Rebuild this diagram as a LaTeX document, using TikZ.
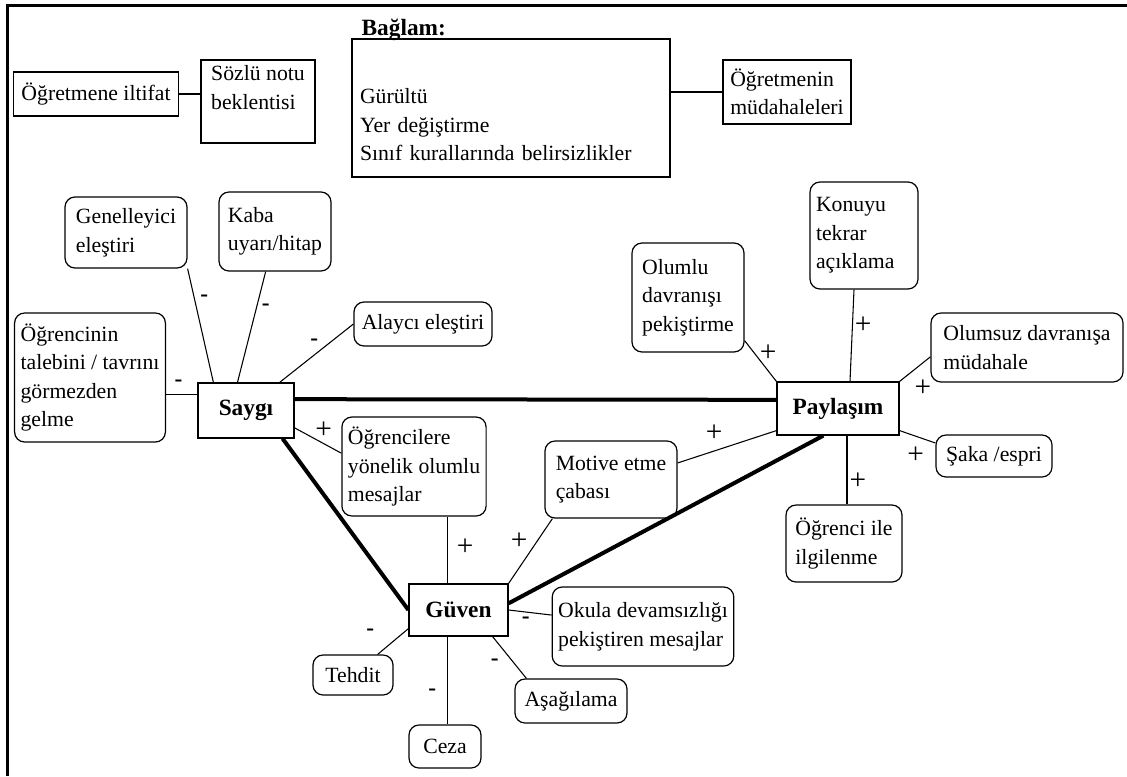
\documentclass[tikz,border=0pt]{standalone}
\usepackage{fontspec}
\setmainfont{Liberation Serif}
\newcommand{\boxfont}{\fontsize{16.3pt}{21.4pt}\selectfont}
\newcommand{\corefont}{\bfseries\fontsize{17.5pt}{21.4pt}\selectfont}

\begin{document}
\begin{tikzpicture}[
  x=0.75pt, y=-0.75pt,
  every node/.style={font=\boxfont},
  card/.style={rectangle, draw, line width=0.9pt, inner xsep=4.5pt, inner ysep=2pt, align=left},
  tag/.style={card, rounded corners=7.5pt},
  core/.style={card, font=\corefont, align=center},
  link/.style={line width=0.8pt},
  tie/.style={line width=3pt},
  frame/.style={line width=2.25pt},
  gain/.style={font=\fontsize{22pt}{22pt}\selectfont, inner sep=0pt},
  loss/.style={font=\corefont, inner sep=0pt},
]
\useasboundingbox (0,0) rectangle (1127,776);
\draw[frame] (7,776) -- (7,5) -- (1127,5);

\node[card, align=center, minimum width=123.75pt, minimum height=33pt] (iltifat) at (96,94) {Öğretmene iltifat};
\node[card, minimum width=85.5pt, minimum height=62.25pt] (sozlu) at (258,101.5) {Sözlü notu\\beklentisi\\\mbox{}};
\node[card, text width=226.5pt, inner xsep=6pt, minimum height=103.5pt] (baglam) at (511,108) {\strut\\Gürültü\\Yer değiştirme\\Sınıf kurallarında belirsizlikler};
\node[font=\corefont, anchor=base west, inner sep=0pt] (baglamlbl) at ([xshift=7.5pt, yshift=2.25pt]baglam.north west) {Bağlam:};
\node[card, minimum width=96pt, minimum height=48pt] (mudahale) at (787,92) {Öğretmenin\\müdahaleleri};

\node[core, minimum width=72pt, minimum height=41.25pt] (saygi) at (246,410.5) {Saygı};
\node[tag, minimum width=91.5pt, minimum height=53.25pt] (genel) at (126,232.5) {Genelleyici\\eleştiri};
\node[tag, minimum width=84pt, minimum height=59.25pt] (kaba) at (275,231.5) {Kaba\\uyarı/hitap};
\node[tag, minimum width=103.5pt, minimum height=33pt] (alayci) at (423,324) {Alaycı eleştiri};
\node[tag, minimum width=111pt, minimum height=96.75pt] (gormez) at (90,377.5) {Öğrencinin\\talebini / tavrını\\görmezden\\gelme};
\node[tag, minimum width=105pt, minimum height=74.25pt] (olumlumsj) at (414,466.5) {Öğrencilere\\yönelik olumlu\\mesajlar};

\node[core, minimum width=91.5pt, minimum height=39.75pt] (paylasim) at (838,408.5) {Paylaşım};
\node[tag, text width=72pt, minimum height=80.25pt] (konu) at (864,235.5) {Konuyu\\tekrar\\açıklama};
\node[tag, minimum width=84pt, minimum height=81.75pt] (pekistir) at (688,297.5) {Olumlu\\davranışı\\pekiştirme};
\node[tag, minimum width=144pt, minimum height=51.75pt] (olumsuz) at (1027,347.5) {Olumsuz davranışa\\müdahale};
\node[tag, minimum width=87pt, minimum height=31.5pt] (saka) at (994,456) {Şaka /espri};
\node[tag, minimum width=87pt, minimum height=57.75pt] (ilgi) at (844,543.5) {Öğrenci ile\\ilgilenme};
\node[tag, minimum width=99pt, minimum height=57.75pt] (motive) at (611,479.5) {Motive etme\\çabası};

\node[core, minimum width=74.25pt, minimum height=39pt] (guven) at (458.5,610) {Güven};
\node[tag, minimum width=135pt, minimum height=59.25pt] (okula) at (643,626.5) {Okula devamsızlığı\\pekiştiren mesajlar};
\node[tag, align=center, minimum width=60pt, minimum height=30pt] (tehdit) at (353,675) {Tehdit};
\node[tag, align=center, minimum width=84pt, minimum height=33pt] (asagi) at (571,701) {Aşağılama};
\node[tag, align=center, minimum width=54pt, minimum height=32.25pt] (ceza) at (445,746.5) {Ceza};

\draw[link] (iltifat) -- (iltifat -| sozlu.west);
\draw[link] (mudahale.west) -- (mudahale.west -| baglam.east);

\draw[link] (genel.south east) -- node[loss, pos=0.26, xshift=7.5pt] {-} ([xshift=12pt]saygi.north west);
\draw[link] ([xshift=-7pt]kaba.south) -- node[loss, pos=0.32, xshift=6.75pt] {-} ([xshift=-6.4pt]saygi.north);
\draw[link] (alayci.west) -- node[loss, pos=0.53, yshift=9.75pt] {-} ([xshift=-11.25pt]saygi.north east);
\draw[link] ([yshift=-13pt]gormez.east) -- node[loss, pos=0.4, yshift=9pt] {-} ([yshift=-13pt]gormez.east -| saygi.west);
\draw[link] ([yshift=-13pt]saygi.east) -- node[gain, pos=0.62, yshift=10pt] {+} ([yshift=10pt]olumlumsj.west);

\draw[tie] ([yshift=8.5pt]saygi.east) -- ([yshift=6.5pt]paylasim.west);
\draw[tie] ([xshift=-9pt]saygi.south east) -- (guven.west);
\draw[tie] ([yshift=5pt]guven.east) -- ([xshift=-11pt]paylasim.south);

\draw[link] ([xshift=-7.5pt]konu.south) -- node[gain, pos=0.39, xshift=8pt] {+} ([xshift=9pt]paylasim.north);
\draw[link] ([yshift=9pt]pekistir.south east) -- node[gain, pos=0.3, xshift=10.5pt] {+} (paylasim.north west);
\draw[link] ([yshift=-7pt]olumsuz.west) -- node[gain, pos=0.7, xshift=10.5pt, yshift=-10.5pt] {+} (paylasim.north east);
\draw[link] ([yshift=3.75pt]paylasim.south east) -- node[gain, pos=0.45, yshift=-14pt] {+} ([yshift=9.75pt]saka.west);
\draw[link] ([xshift=6.75pt]paylasim.south) -- node[gain, pos=0.67, xshift=8.25pt] {+} ([xshift=6.75pt]paylasim.south |- ilgi.north);
\draw[link] ([yshift=12.4pt]motive.east) -- node[gain, pos=0.37, yshift=13.3pt] {+} ([yshift=3.75pt]paylasim.south west);

\draw[link] ([xshift=-8.6pt]guven.north) -- node[gain, pos=0.54, xshift=13.5pt] {+} ([xshift=-8.6pt]guven.north |- olumlumsj.south);
\draw[link] ([xshift=6pt]motive.south west) -- node[gain, pos=0.35, xshift=-13.5pt] {+} (guven.north east);
\draw[link] (guven.east) -- node[loss, pos=0.4, yshift=-6pt] {-} ([yshift=8.6pt]okula.west);
\draw[link] ([yshift=6pt]guven.south west) -- node[loss, pos=0.5, xshift=-17pt, yshift=7pt] {-} ([xshift=-12pt]tehdit.north east);
\draw[link] ([xshift=-8.6pt]guven.south) -- node[loss, pos=0.63, xshift=-11pt] {-} ([xshift=-8.6pt]guven.south |- ceza.north);
\draw[link] ([xshift=-12pt]guven.south east) -- node[loss, pos=0.5, xshift=-11pt, yshift=-3.75pt] {-} ([xshift=9pt]asagi.north west);
\end{tikzpicture}
\end{document}
